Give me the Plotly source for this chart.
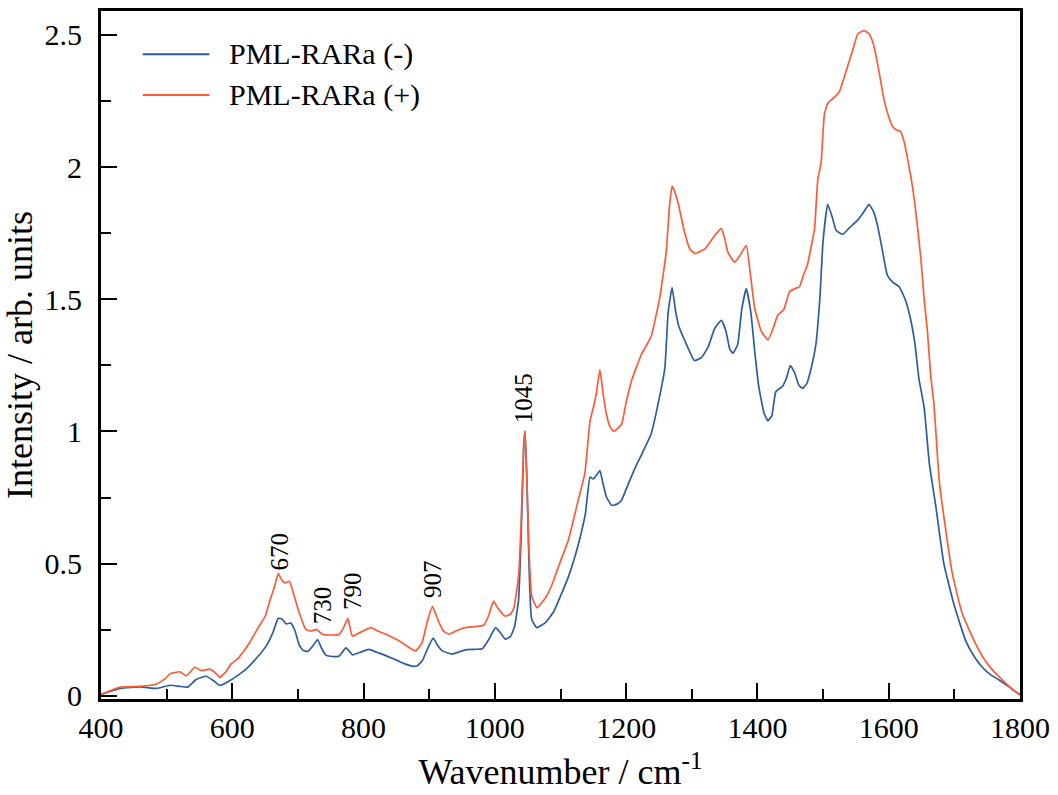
import plotly.graph_objects as go

# ---------------- data ----------------
wn_minus = [400, 415, 430, 460, 485, 505, 520, 532, 545, 560, 571, 581, 596, 610, 621, 636, 652, 662, 670, 676,
            682, 689, 695, 702, 708, 715, 723, 730, 736, 743, 755, 763, 773, 778, 783, 795, 808, 820, 834, 850,
            864, 875, 882, 890, 896, 906, 913, 920, 935, 955, 970, 981, 990, 1001, 1008, 1016, 1024, 1030, 1036, 1040,
            1044, 1046, 1049, 1052, 1056, 1064, 1077, 1090, 1102, 1112, 1122, 1130, 1138, 1145, 1150, 1155, 1160, 1165, 1170, 1178,
            1186, 1193, 1203, 1215, 1225, 1238, 1250, 1259, 1264, 1270, 1275, 1280, 1290, 1304, 1315, 1325, 1335, 1345, 1352, 1358,
            1363, 1370, 1376, 1383, 1390, 1396, 1402, 1410, 1416, 1422, 1428, 1438, 1444, 1450, 1457, 1463, 1469, 1475, 1482, 1489,
            1495, 1500, 1507, 1514, 1520, 1530, 1540, 1552, 1562, 1570, 1577, 1583, 1590, 1598, 1606, 1616, 1625, 1633, 1640, 1646,
            1654, 1662, 1672, 1684, 1699, 1717, 1730, 1742, 1755, 1768, 1780, 1793, 1800]
int_minus = [0.005, 0.018, 0.028, 0.034, 0.028, 0.040, 0.036, 0.033, 0.062, 0.074, 0.058, 0.039, 0.057, 0.080, 0.101, 0.140, 0.190, 0.240, 0.293, 0.290,
             0.272, 0.275, 0.250, 0.192, 0.172, 0.168, 0.190, 0.213, 0.180, 0.153, 0.148, 0.151, 0.181, 0.170, 0.155, 0.165, 0.176, 0.165, 0.152, 0.135,
             0.120, 0.112, 0.114, 0.135, 0.170, 0.218, 0.190, 0.170, 0.158, 0.174, 0.176, 0.178, 0.210, 0.258, 0.240, 0.214, 0.225, 0.262, 0.360, 0.600,
             0.950, 1.000, 0.800, 0.500, 0.290, 0.258, 0.277, 0.320, 0.389, 0.450, 0.527, 0.600, 0.690, 0.827, 0.820, 0.835, 0.852, 0.800, 0.752, 0.720,
             0.725, 0.740, 0.800, 0.870, 0.920, 0.990, 1.120, 1.240, 1.450, 1.544, 1.460, 1.400, 1.340, 1.268, 1.280, 1.320, 1.390, 1.420, 1.380, 1.310,
             1.296, 1.330, 1.460, 1.540, 1.450, 1.300, 1.170, 1.070, 1.040, 1.060, 1.150, 1.170, 1.200, 1.249, 1.220, 1.175, 1.163, 1.180, 1.240, 1.328,
             1.500, 1.720, 1.859, 1.810, 1.760, 1.745, 1.770, 1.797, 1.830, 1.859, 1.830, 1.778, 1.690, 1.590, 1.565, 1.547, 1.500, 1.428, 1.330, 1.200,
             1.090, 0.876, 0.713, 0.500, 0.349, 0.210, 0.150, 0.110, 0.080, 0.060, 0.040, 0.016, 0.005]

wn_plus = [400, 415, 429, 459, 485, 498, 505, 520, 530, 543, 553, 566, 575, 581, 590, 598, 608, 616, 626, 641,
           650, 657, 664, 670, 675, 680, 687, 694, 702, 712, 720, 728, 737, 750, 763, 770, 776, 783, 795, 811,
           822, 834, 854, 868, 879, 889, 897, 905, 915, 922, 930, 945, 955, 970, 983, 990, 998, 1005, 1016, 1024,
           1029, 1036, 1040, 1044, 1046, 1049, 1052, 1056, 1060, 1064, 1077, 1087, 1097, 1112, 1127, 1137, 1145, 1150, 1155, 1160,
           1165, 1170, 1175, 1181, 1193, 1200, 1208, 1223, 1238, 1251, 1261, 1266, 1270, 1275, 1279, 1289, 1297, 1305, 1312, 1320,
           1335, 1345, 1350, 1355, 1365, 1372, 1383, 1389, 1396, 1406, 1416, 1424, 1431, 1440, 1449, 1457, 1464, 1470, 1476, 1482,
           1487, 1492, 1497, 1502, 1507, 1512, 1518, 1525, 1531, 1537, 1545, 1553, 1563, 1570, 1576, 1580, 1586, 1593, 1600, 1606,
           1612, 1618, 1623, 1628, 1634, 1639, 1644, 1649, 1654, 1659, 1664, 1669, 1677, 1687, 1697, 1712, 1732, 1745, 1758, 1773,
           1786, 1796, 1800]
int_plus = [0.005, 0.020, 0.033, 0.036, 0.045, 0.065, 0.083, 0.091, 0.076, 0.108, 0.095, 0.101, 0.085, 0.070, 0.090, 0.120, 0.140, 0.164, 0.200, 0.264,
            0.300, 0.358, 0.410, 0.462, 0.440, 0.427, 0.433, 0.380, 0.314, 0.251, 0.245, 0.251, 0.233, 0.230, 0.233, 0.260, 0.293, 0.226, 0.240, 0.258,
            0.245, 0.233, 0.208, 0.185, 0.170, 0.200, 0.280, 0.337, 0.277, 0.245, 0.233, 0.250, 0.258, 0.262, 0.267, 0.300, 0.358, 0.330, 0.301, 0.310,
            0.333, 0.450, 0.650, 0.950, 1.002, 0.800, 0.550, 0.380, 0.352, 0.333, 0.370, 0.420, 0.489, 0.589, 0.740, 0.840, 1.040, 1.090, 1.150, 1.234,
            1.140, 1.065, 1.020, 1.000, 1.027, 1.110, 1.190, 1.290, 1.359, 1.503, 1.678, 1.850, 1.928, 1.900, 1.866, 1.753, 1.690, 1.672, 1.680, 1.690,
            1.741, 1.768, 1.730, 1.678, 1.640, 1.660, 1.703, 1.600, 1.465, 1.378, 1.346, 1.390, 1.440, 1.460, 1.528, 1.540, 1.547, 1.590, 1.628, 1.700,
            1.765, 1.953, 2.016, 2.200, 2.240, 2.253, 2.265, 2.285, 2.330, 2.378, 2.440, 2.504, 2.516, 2.504, 2.470, 2.429, 2.350, 2.253, 2.190, 2.153,
            2.140, 2.135, 2.100, 2.041, 1.960, 1.878, 1.770, 1.653, 1.500, 1.378, 1.210, 1.100, 0.813, 0.625, 0.462, 0.311, 0.198, 0.140, 0.098, 0.060,
            0.030, 0.010, 0.003]

series_names = ["PML-RARa (-)", "PML-RARa (+)"]
series_colors = ["#2c5e9e", "#ff5a36"]

peak_labels = ["670", "730", "790", "907", "1045"]
peak_x = [672, 737, 784, 906, 1044]
peak_y = [0.544, 0.343, 0.397, 0.442, 1.124]

FONT = "Liberation Serif"

fig = go.Figure()
fig.add_trace(go.Scatter(x=wn_minus, y=int_minus, mode="lines", name=series_names[0],
                         line=dict(color=series_colors[0], width=1.7, shape="spline", smoothing=0.4),
                         showlegend=False))
fig.add_trace(go.Scatter(x=wn_plus, y=int_plus, mode="lines", name=series_names[1],
                         line=dict(color=series_colors[1], width=1.7, shape="spline", smoothing=0.4),
                         showlegend=False))

for lab, px, py in zip(peak_labels, peak_x, peak_y):
    fig.add_annotation(x=px, y=py, text=lab, textangle=-90, showarrow=False,
                       xanchor="center", yanchor="middle",
                       font=dict(family=FONT, size=25, color="black"))

# manual legend (long line samples as in the reference)
leg_y = [0.937, 0.878]
for name, col, ly in zip(series_names, series_colors, leg_y):
    fig.add_shape(type="line", xref="paper", yref="paper", x0=0.0455, x1=0.118, y0=ly, y1=ly,
                  line=dict(color=col, width=2))
    fig.add_annotation(xref="paper", yref="paper", x=0.137, y=ly, text=name, showarrow=False,
                       xanchor="left", yanchor="middle",
                       font=dict(family=FONT, size=30, color="black"))

fig.update_layout(
    width=1058, height=795,
    margin=dict(l=101, r=33, t=8, b=96),
    paper_bgcolor="white", plot_bgcolor="white",
    font=dict(family=FONT, size=30, color="black"),
    xaxis=dict(range=[400, 1800], tickmode="array", tickvals=[400, 600, 800, 1000, 1200, 1400, 1600, 1800],
               ticks="inside", ticklen=16, tickwidth=2, tickcolor="black",
               minor=dict(dtick=100, tick0=400, ticks="inside", ticklen=10, tickwidth=2, tickcolor="black"),
               showline=True, linecolor="black", linewidth=3, mirror=True, showgrid=False, zeroline=False,
               tickfont=dict(family=FONT, size=30),
               title=dict(text="Wavenumber / cm<sup>-1</sup>", font=dict(family=FONT, size=36), standoff=16)),
    yaxis=dict(range=[-0.012, 2.59], tickmode="array", tickvals=[0, 0.5, 1, 1.5, 2, 2.5],
               ticktext=["0", "0.5", "1", "1.5", "2", "2.5"],
               ticks="inside", ticklen=16, tickwidth=2, tickcolor="black",
               minor=dict(dtick=0.25, tick0=0, ticks="inside", ticklen=10, tickwidth=2, tickcolor="black"),
               showline=True, linecolor="black", linewidth=3, mirror=True, showgrid=False, zeroline=False,
               tickfont=dict(family=FONT, size=30), ticklabelstandoff=10,
               title=dict(text="Intensity / arb. units", font=dict(family=FONT, size=36), standoff=2)),
)

fig.write_html("out.html")
